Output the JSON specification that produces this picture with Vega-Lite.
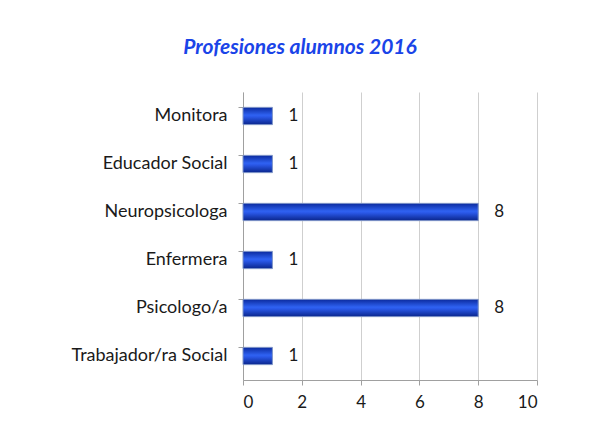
{
  "$schema": "https://vega.github.io/schema/vega-lite/v6.json",
  "width": 294,
  "height": 288,
  "autosize": "none",
  "padding": {"left": 243, "top": 92, "right": 52, "bottom": 47},
  "background": "white",
  "title": {
    "text": "Profesiones alumnos 2016",
    "font": "Lato",
    "fontSize": 21,
    "fontStyle": "italic",
    "fontWeight": "bold",
    "color": "#1a44e8",
    "anchor": "middle",
    "dx": -90,
    "offset": 34
  },
  "data": {
    "values": [
      {"profesion": "Monitora", "alumnos": 1},
      {"profesion": "Educador Social", "alumnos": 1},
      {"profesion": "Neuropsicologa", "alumnos": 8},
      {"profesion": "Enfermera", "alumnos": 1},
      {"profesion": "Psicologo/a", "alumnos": 8},
      {"profesion": "Trabajador/ra Social", "alumnos": 1}
    ]
  },
  "encoding": {
    "y": {
      "field": "profesion",
      "type": "nominal",
      "sort": null,
      "title": null,
      "scale": {"paddingInner": 0.64, "paddingOuter": 0.32},
      "axis": {
        "bandPosition": 0,
        "labelFont": "Lato",
        "labelFontSize": 18,
        "labelColor": "#1a1a1a",
        "labelPadding": 11,
        "domainColor": "#a0a0a0",
        "tickColor": "#a0a0a0",
        "tickSize": 5,
        "grid": false
      }
    },
    "x": {
      "field": "alumnos",
      "type": "quantitative",
      "title": null,
      "scale": {"domain": [0, 10]},
      "axis": {
        "values": [0, 2, 4, 6, 8, 10],
        "labelFont": "Lato",
        "labelFontSize": 17,
        "labelColor": "#1a1a1a",
        "labelPadding": 9,
        "domainColor": "#a0a0a0",
        "tickColor": "#a0a0a0",
        "tickSize": 5,
        "gridColor": "#cfcfcf",
        "grid": true
      }
    }
  },
  "layer": [
    {
      "mark": {
        "type": "bar",
        "stroke": "#7f95c8",
        "strokeWidth": 1,
        "color": {
          "gradient": "linear",
          "x1": 0, "y1": 0, "x2": 0, "y2": 1,
          "stops": [
            {"offset": 0, "color": "#0b2a9e"},
            {"offset": 0.45, "color": "#2f62f2"},
            {"offset": 0.55, "color": "#2a58e8"},
            {"offset": 1, "color": "#0a268c"}
          ]
        }
      }
    },
    {
      "mark": {
        "type": "text",
        "align": "left",
        "dx": 16,
        "font": "Lato",
        "fontSize": 17,
        "color": "#1a1a1a"
      },
      "encoding": {"text": {"field": "alumnos", "type": "quantitative"}}
    }
  ],
  "config": {"view": {"stroke": null}}
}
